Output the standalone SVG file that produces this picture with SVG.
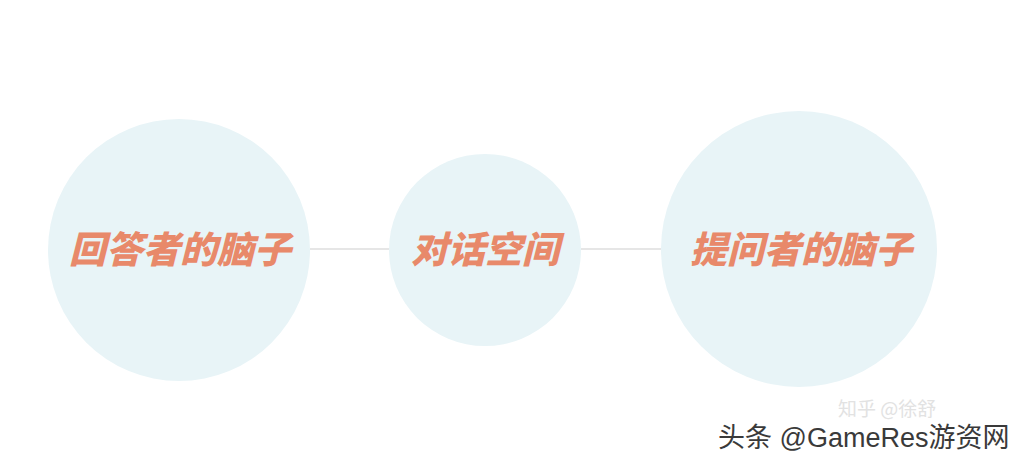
<svg xmlns="http://www.w3.org/2000/svg" width="1025" height="461" viewBox="0 0 1025 461">
<style>
.node{fill:#e8f4f7}
.lbl{font-family:"Noto Sans CJK SC","Noto Sans",sans-serif;font-weight:900;font-size:37px;fill:#e8896a;text-anchor:middle}
.conn{stroke:#e6e6e6;stroke-width:2;fill:none}
.wm1{font-family:"Noto Sans CJK SC","Noto Sans",sans-serif;font-size:19px;fill:#e2e2e2}
.wm2{font-family:"Liberation Sans","Noto Sans CJK SC",sans-serif;font-size:27px;fill:#3a3a3a;stroke:#ffffff;stroke-width:0.6;paint-order:stroke}
</style>
<rect width="1025" height="461" fill="#ffffff"/>
<g id="connectors">
<line class="conn" x1="310" y1="249" x2="390" y2="249"/>
<line class="conn" x1="581" y1="249" x2="662" y2="249"/>
</g>
<g id="node-answerer">
<circle class="node" cx="179" cy="250" r="131"/>
<text class="lbl" transform="translate(180,263) skewX(-14)">回答者的脑子</text>
</g>
<g id="node-space">
<circle class="node" cx="485" cy="250" r="96"/>
<text class="lbl" transform="translate(485,263) skewX(-14)">对话空间</text>
</g>
<g id="node-asker">
<circle class="node" cx="799" cy="249" r="138"/>
<text class="lbl" transform="translate(801,263) skewX(-14)">提问者的脑子</text>
</g>
<text class="wm1" x="838" y="416">知乎 @徐舒</text>
<text class="wm2" x="718" y="447">头条 @GameRes游资网</text>
</svg>
